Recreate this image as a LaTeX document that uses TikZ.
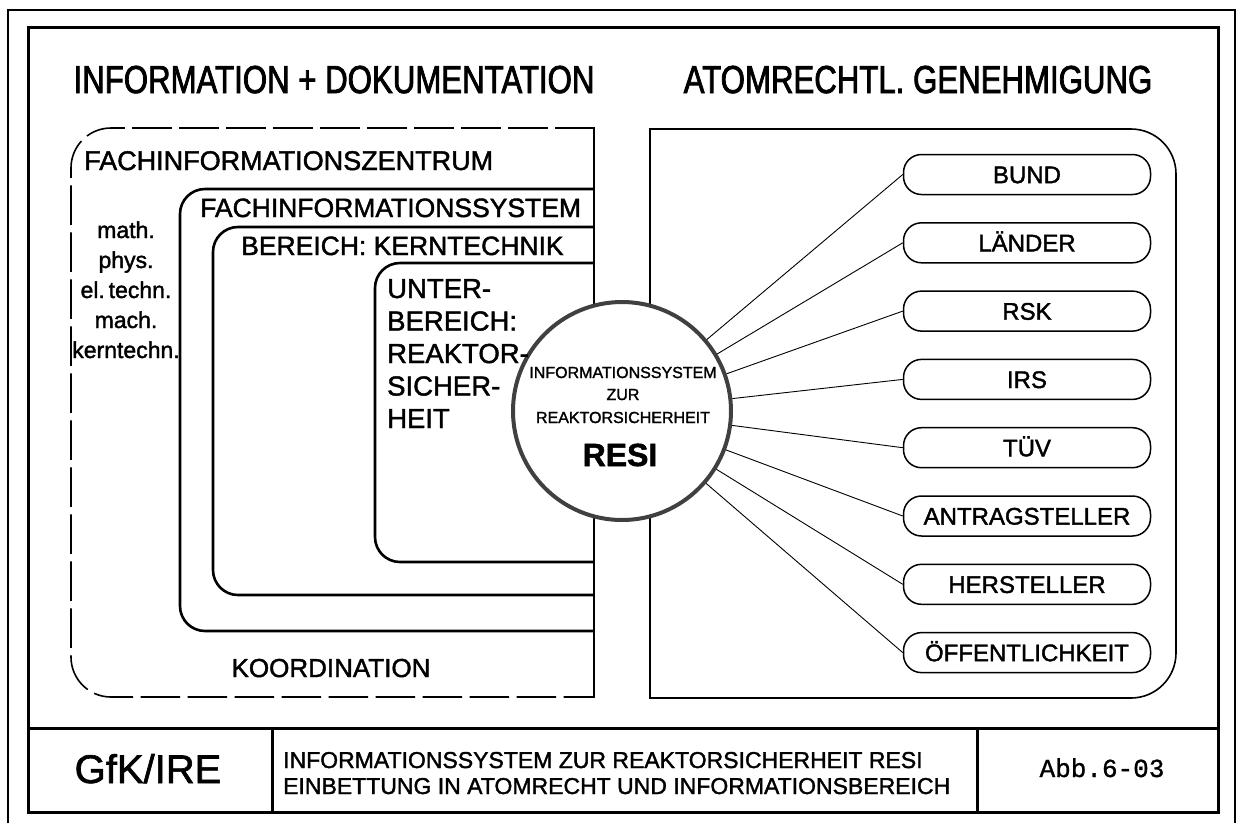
\documentclass[tikz,border=0pt]{standalone}
\usepackage{fontspec}
\setmainfont{Liberation Sans}[FakeBold=1.6]
\newfontfamily\condfont{Liberation Sans}[FakeStretch=0.8, FakeBold=2]
\setmonofont{Liberation Mono}[FakeBold=1]
\usetikzlibrary{positioning}
\newcommand{\fs}[1]{\fontsize{#1}{#1}\selectfont}

\begin{document}
\begin{tikzpicture}[x=1pt, y=-1pt,
  frame/.style={line width=1.6pt, line cap=rect},
  heavy/.style={line width=3pt, line cap=rect},
  nest/.style={line width=2.6pt, rounded corners=25pt},
  txt/.style={inner sep=0pt, anchor=base},
  lft/.style={inner sep=0pt, anchor=base west},
  pill/.style={draw, line width=1.5pt, rounded corners=18pt, minimum width=247pt,
               minimum height=40pt, inner sep=0pt, text height=17.2pt, text depth=0pt,
               font=\fs{24}},
  spoke/.style={line width=0.9pt},
]
\useasboundingbox (0,0) rectangle (1240,823);

% sheet frames and title block
\draw[line width=1.2pt] (8,823) -- (8,10) -- (1235,10) -- (1235,823);
\draw[heavy] (28,27) rectangle (1218,812);
\draw[heavy] (28,728) -- (1218,728);
\draw[heavy] (272,728) -- (272,812);
\draw[heavy] (977,728) -- (977,812);

% left: nested information areas
\draw[frame, dash pattern=on 38pt off 9pt, rounded corners=40pt] (594,128) -| (71,697) -- (594,697);
\draw[frame] (594,128) -- (594,697);
\draw[nest] (594,189) -| (180,631) -- (594,631);
\draw[nest] (594,227) -| (213,595) -- (594,595);
\draw[nest] (594,263) -| (375,562) -- (594,562);

% right: licensing box
\draw[frame] (650,698) -- (650,129);
\draw[frame, rounded corners=45pt] (650,129) -- (1176,129) -- (1176,698) -- (650,698);

% RESI
\node[circle, draw=black!75, line width=4pt, fill=white, minimum size=218pt, inner sep=0pt] (resi) at (622,411) {};
\node[txt, font=\fs{16}] (resi1) at (623,378) {INFORMATIONSSYSTEM};
\node[txt, font=\fs{16}] (resi2) at (623,400) {ZUR};
\node[txt, font=\fs{16}] (resi3) at (623,423) {REAKTORSICHERHEIT};
\node[txt, font=\fs{32}\bfseries] (resi4) at (620,466) {RESI};

\foreach \lbl [count=\i] in {BUND, LÄNDER, RSK, IRS, TÜV, ANTRAGSTELLER, HERSTELLER, ÖFFENTLICHKEIT} {
  \node[pill] (org\i) at (1027,{174.5+68.3*(\i-1)}) {\lbl};
  \draw[spoke] (resi) -- (org\i.west);
}

% headings and labels
\node[txt, font=\condfont\fs{39}] (hinfo) at (334,93) {INFORMATION + DOKUMENTATION};
\node[txt, font=\condfont\fs{39}] (hlaw) at (918,93) {ATOMRECHTL. GENEHMIGUNG};
\node[lft, font=\fs{27}] (fiz) at (84,170) {FACHINFORMATIONSZENTRUM};
\node[lft, font=\fs{26.5}] (fis) at (200,217) {FACHINFORMATIONSSYSTEM};
\node[lft, font=\fs{26.5}] (kt) at (241,255) {BEREICH: KERNTECHNIK};
\node[txt, font=\fs{26}] (koord) at (331,677) {KOORDINATION};
\foreach \w [count=\i] in {math., phys., el.\,techn., mach., kerntechn.}
  \node[txt, font=\fs{23}] (fld\i) at (126,{238+30*(\i-1)}) {\w};
\foreach \w [count=\i] in {UNTER-, BEREICH:, REAKTOR-, SICHER-, HEIT}
  \node[lft, font=\fs{27.5}] (sub\i) at (387,{298+32.5*(\i-1)}) {\w};

% title block texts
\node[txt, font=\fs{40}] (gfk) at (148,783) {GfK/IRE};
\node[lft, font=\fs{23}] (tl1) at (283,768) {INFORMATIONSSYSTEM ZUR REAKTORSICHERHEIT RESI};
\node[lft, font=\fs{23}] (tl2) at (283,794) {EINBETTUNG IN ATOMRECHT UND INFORMATIONSBEREICH};
\node[txt, font=\ttfamily\fs{26}] (abb) at (1102,777) {Abb.6-03};
\end{tikzpicture}
\end{document}
